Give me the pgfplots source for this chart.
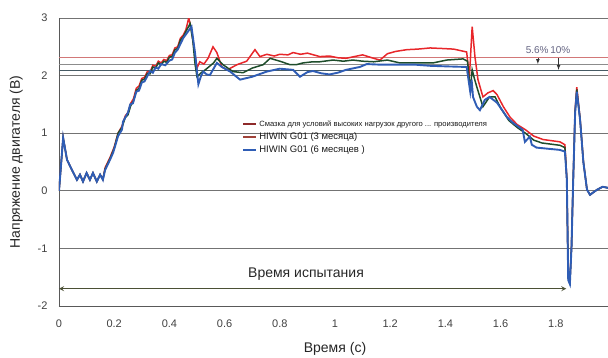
\documentclass[border=0pt]{standalone}
\usepackage{fontspec}
\setmainfont{Liberation Sans}
\usepackage{pgfplots}
\pgfplotsset{compat=1.18}
\definecolor{cred}{HTML}{E8262A}
\definecolor{cgreen}{HTML}{1E4D2B}
\definecolor{cblue}{HTML}{2F5DB5}
\definecolor{lgred}{HTML}{8E2A2A}
\definecolor{lgbrown}{HTML}{A0433A}
\definecolor{olive}{HTML}{4B5035}
\begin{document}
\begin{tikzpicture}
\begin{axis}[
  name=ax,
  scale only axis,
  width=552pt, height=288pt,
  xmin=0, xmax=2, ymin=-2, ymax=3,
  axis lines*=left,
  axis line style={draw=black!65, line width=0.8pt},
  xtick={0,0.2,0.4,0.6,0.8,1,1.2,1.4,1.6,1.8},
  xticklabels={0,0.2,0.4,0.6,0.8,1,1.2,1.4,1.6,1.8},
  ytick={-2,-1,0,1,2,3},
  tick style={draw=none},
  ymajorgrids,
  grid style={draw=black!55, line width=0.6pt},
  ticklabel style={font=\fontsize{11}{13}\selectfont, text=black!75},
  /pgf/number format/assume math mode=true,
  xticklabel style={yshift=-10pt},
  yticklabel style={xshift=-8pt},
  xlabel={Время (с)},
  ylabel={Напряжение двигателя (В)},
  label style={font=\fontsize{14}{16}\selectfont, text=black!85},
  xlabel style={yshift=-8pt},
  ylabel style={yshift=8pt},
  legend style={at={(0.33,0.655)}, anchor=north west, draw=none, fill=none,
    font=\fontsize{9.5}{11}\selectfont, text=black!90, row sep=1pt,
    inner sep=1pt},
  legend cell align=left,
  legend image code/.code={\draw[#1, line width=2pt] (0pt,0pt) -- (13pt,0pt);},
]
% reference levels
\addplot[forget plot, color={rgb,255:red,210;green,120;blue,120}, line width=0.9pt] coordinates {(0,2.32) (2,2.32)};
\addplot[forget plot, color=black!45, line width=1.2pt] coordinates {(0,2.19) (2,2.19)};
\addplot[forget plot, color={rgb,255:red,70;green,90;blue,100}, line width=0.9pt] coordinates {(0,2.09) (2,2.09)};
\addplot[forget plot, -latex, color=black!80, line width=0.7pt] coordinates {(1.735,2.30) (1.735,2.2)};
\addplot[forget plot, -latex, color=black!80, line width=0.7pt] coordinates {(1.81,2.30) (1.81,2.1)};
\node[font=\fontsize{10}{12}\selectfont, text={rgb,255:red,100;green,100;blue,130}] at (axis cs:1.772,2.45) {5.6\%\,10\%};
% test time arrow
\addplot[forget plot, <->, >=stealth, color=olive, line width=1.2pt] coordinates {(0.0,-1.70) (1.838,-1.70)};
\node[font=\fontsize{14}{16}\selectfont, text=black!85] at (axis cs:0.895,-1.44) {Время испытания};
% red
\addplot[forget plot, color=cred, line width=1.5pt] coordinates {
(0,0.0) (0.005,0.3) (0.015,0.92) (0.029,0.54) (0.047,0.36) (0.065,0.19) (0.076,0.28) (0.087,0.16) (0.1,0.31) (0.112,0.19) (0.123,0.31) (0.137,0.16) (0.149,0.28) (0.159,0.2) (0.167,0.4) (0.185,0.58) (0.2,0.76) (0.214,1.0) (0.228,1.12) (0.24,1.3) (0.25,1.36) (0.26,1.52) (0.27,1.6) (0.28,1.78) (0.29,1.82) (0.3,1.95) (0.31,1.97) (0.32,2.07) (0.33,2.06) (0.34,2.18) (0.35,2.16) (0.36,2.25) (0.37,2.22) (0.38,2.28) (0.39,2.26) (0.40,2.35) (0.41,2.36) (0.42,2.48) (0.43,2.5) (0.44,2.65) (0.45,2.7) (0.46,2.8) (0.47,3.0) (0.48,2.8) (0.49,2.45) (0.5,2.13) (0.51,2.24) (0.525,2.2) (0.54,2.3) (0.558,2.5) (0.572,2.4) (0.59,2.15) (0.61,2.1) (0.645,2.19) (0.68,2.25) (0.71,2.45) (0.728,2.33) (0.753,2.37) (0.78,2.34) (0.80,2.37) (0.83,2.36) (0.848,2.4) (0.875,2.37) (0.9,2.39) (0.945,2.33) (0.98,2.34) (1.01,2.31) (1.04,2.3) (1.07,2.33) (1.10,2.36) (1.14,2.3) (1.163,2.27) (1.19,2.38) (1.22,2.42) (1.26,2.45) (1.3,2.46) (1.345,2.48) (1.39,2.47) (1.43,2.46) (1.477,2.41) (1.487,1.98) (1.497,2.85) (1.507,2.33) (1.518,1.93) (1.536,1.63) (1.554,1.7) (1.573,1.74) (1.587,1.67) (1.61,1.46) (1.634,1.28) (1.66,1.15) (1.69,1.06) (1.72,0.95) (1.754,0.89) (1.815,0.85) (1.833,0.8) (1.84,0.2) (1.845,-1.5) (1.851,-1.58) (1.857,-0.95) (1.862,0) (1.87,1.4) (1.876,1.8) (1.888,1.25) (1.9,0.5) (1.913,0.02) (1.924,-0.07) (1.935,-0.03) (1.95,0.02) (1.97,0.07) (1.99,0.05)};
% green
\addplot[forget plot, color=cgreen, line width=1.5pt] coordinates {
(0,0.0) (0.005,0.3) (0.015,0.92) (0.029,0.54) (0.047,0.36) (0.065,0.19) (0.076,0.28) (0.087,0.16) (0.1,0.31) (0.112,0.19) (0.123,0.31) (0.137,0.16) (0.149,0.28) (0.159,0.2) (0.167,0.38) (0.185,0.56) (0.2,0.74) (0.214,1.0) (0.228,1.1) (0.24,1.27) (0.25,1.32) (0.26,1.48) (0.27,1.56) (0.28,1.74) (0.29,1.78) (0.3,1.92) (0.31,1.94) (0.32,2.04) (0.33,2.03) (0.34,2.15) (0.35,2.13) (0.36,2.22) (0.37,2.19) (0.38,2.25) (0.39,2.23) (0.40,2.32) (0.41,2.33) (0.42,2.45) (0.43,2.47) (0.44,2.62) (0.45,2.67) (0.46,2.77) (0.475,2.9) (0.485,2.6) (0.493,2.2) (0.5,1.98) (0.515,2.05) (0.53,2.1) (0.56,2.22) (0.572,2.3) (0.594,2.19) (0.63,2.07) (0.667,2.05) (0.70,2.13) (0.74,2.19) (0.765,2.3) (0.80,2.25) (0.837,2.19) (0.86,2.19) (0.884,2.22) (0.92,2.24) (0.945,2.24) (0.993,2.27) (1.03,2.25) (1.065,2.27) (1.1,2.25) (1.14,2.24) (1.19,2.27) (1.235,2.22) (1.29,2.22) (1.355,2.22) (1.405,2.27) (1.464,2.29) (1.48,2.25) (1.49,1.75) (1.497,2.1) (1.505,1.95) (1.514,1.8) (1.536,1.46) (1.56,1.63) (1.58,1.63) (1.6,1.44) (1.63,1.22) (1.66,1.1) (1.69,1.0) (1.72,0.88) (1.75,0.83) (1.815,0.79) (1.833,0.75) (1.84,0.2) (1.845,-1.52) (1.851,-1.6) (1.857,-0.96) (1.862,0) (1.87,1.37) (1.876,1.76) (1.888,1.24) (1.9,0.5) (1.913,0.02) (1.924,-0.07) (1.935,-0.03) (1.95,0.02) (1.97,0.07) (1.99,0.05)};
% blue
\addplot[forget plot, color=cblue, line width=1.9pt] coordinates {
(0,0.0) (0.005,0.3) (0.015,0.92) (0.029,0.54) (0.047,0.36) (0.065,0.19) (0.076,0.28) (0.087,0.16) (0.1,0.31) (0.112,0.19) (0.123,0.31) (0.137,0.16) (0.149,0.28) (0.159,0.19) (0.167,0.36) (0.185,0.54) (0.196,0.66) (0.203,0.77) (0.214,0.95) (0.228,1.06) (0.232,1.2) (0.25,1.36) (0.258,1.5) (0.268,1.52) (0.28,1.72) (0.29,1.74) (0.3,1.88) (0.31,1.9) (0.33,2.08) (0.34,2.05) (0.35,2.14) (0.36,2.12) (0.37,2.2) (0.385,2.18) (0.40,2.26) (0.41,2.28) (0.42,2.4) (0.43,2.45) (0.45,2.65) (0.465,2.75) (0.48,2.85) (0.493,2.39) (0.505,1.85) (0.515,2.0) (0.523,2.07) (0.535,2.02) (0.547,2.01) (0.56,2.12) (0.572,2.22) (0.59,2.15) (0.62,2.07) (0.656,1.93) (0.70,1.98) (0.753,2.07) (0.80,2.12) (0.848,2.1) (0.873,1.98) (0.9,2.06) (0.92,2.08) (0.95,2.04) (0.98,2.02) (1.01,2.05) (1.04,2.1) (1.09,2.15) (1.115,2.2) (1.163,2.19) (1.225,2.19) (1.29,2.19) (1.345,2.17) (1.405,2.16) (1.477,2.15) (1.49,1.72) (1.495,1.93) (1.5,1.63) (1.514,1.46) (1.525,1.4) (1.543,1.58) (1.56,1.63) (1.587,1.53) (1.623,1.28) (1.645,1.18) (1.68,1.06) (1.688,0.85) (1.706,0.94) (1.713,0.8) (1.73,0.75) (1.815,0.71) (1.833,0.68) (1.84,0.19) (1.845,-1.55) (1.851,-1.62) (1.857,-0.97) (1.862,0) (1.87,1.35) (1.876,1.72) (1.888,1.23) (1.9,0.49) (1.913,0.02) (1.924,-0.07) (1.935,-0.03) (1.95,0.02) (1.97,0.07) (1.99,0.05)};
% legend
\addlegendimage{color=lgred}
\addlegendentry{\fontsize{7.6}{9}\selectfont Смазка для условий высоких нагрузок другого ... производителя}
\addlegendimage{color=lgbrown}
\addlegendentry{HIWIN G01 (3 месяца)}
\addlegendimage{color=cblue}
\addlegendentry{HIWIN G01 (6 месяцев )}
\end{axis}
\pgfresetboundingbox
\path[use as bounding box] ([shift={(-59pt,-52pt)}]ax.south west) rectangle ([shift={(-3pt,18pt)}]ax.north east);
\end{tikzpicture}
\end{document}
